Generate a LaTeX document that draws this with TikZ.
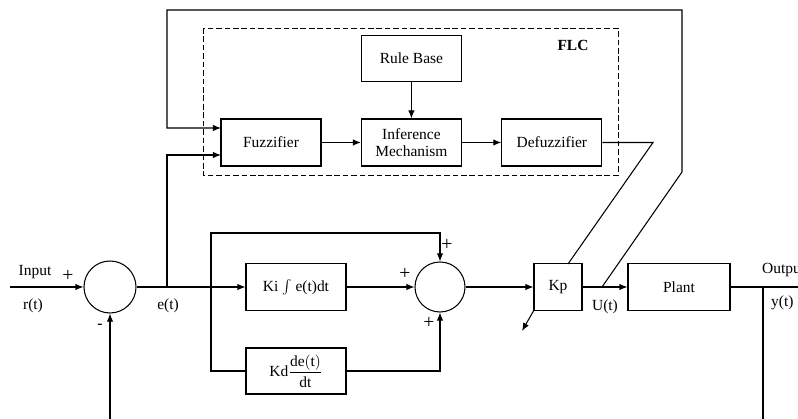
\documentclass[tikz,border=0pt]{standalone}
\usepackage{fontspec}
\setmainfont{Liberation Serif}
\usetikzlibrary{positioning,arrows.meta}
\tikzset{
  block/.style={draw, minimum width=2.5cm, minimum height=1.175cm, align=center, inner sep=1pt},
  sum/.style={draw, circle, minimum size=1.3cm, inner sep=0pt},
  sign/.style={font=\fontsize{14}{14}\selectfont, inner sep=0pt}
}
\begin{document}
\begin{tikzpicture}[x=0.025cm, y=-0.025cm, line width=0.75pt, >={Latex[length=2mm,width=1.6mm]}, font=\fontsize{11}{12}\selectfont]
            \clip (0,0) rectangle (798,419);
            % fuzzy controller
            \node(fuzz) [block] at (271,142.5) {Fuzzifier};
            \node(inf) [block, right of=fuzz, node distance=3.51cm] {Inference\\Mechanism};
            \node(defuzz) [block, right of=inf, node distance=3.51cm] {Defuzzifier};
            \node(rule) [block, above of=inf, node distance=2.1cm, minimum height=1.15cm] {Rule Base};
            \draw[line width=0.6pt, dash pattern=on 4pt off 2pt] (203,28) rectangle (618,175);
            \node(flc) at (573,45) {\textbf{FLC}};
            % main loop
            \node(s1) [sum] at (110,287) {};
            \node(ki) [block] at (296,287) {Ki {\fontsize{13}{13}\selectfont$\int$} e(t)dt};
            \node(kd) [block, minimum height=1.15cm] at (296,371) {Kd$\displaystyle\frac{\mathrm{de(t)}}{\mathrm{dt}}$};
            \node(s2) [sum, minimum size=1.25cm] at (440,287) {};
            \node(kp) [block, minimum width=1.2cm] at (558,287) {Kp};
            \node(plant) [block, minimum width=2.55cm] at (679,287) {Plant};
            \coordinate(in) at (10,287);
            \coordinate(fb) at (110,419);
            \coordinate(e) at (167,287);
            \coordinate(p) at (211,287);
            \coordinate(u) at (602,287);
            \coordinate(y) at (763,287);
            \coordinate(out) at (798,287);
            \coordinate(ybot) at (763,419);
            \coordinate(f1) at (221,128);
            \coordinate(f2) at (221,155);
            \coordinate(kpt) at (568,264);
            \coordinate(g) at (522,331);
            \draw[->](in) -- (s1);
            \draw[->](fb) -- (s1);
            \draw(s1) -- (p);
            \draw[->](e) |- (f2);
            \draw[->](u) -- (682,172) -- (682,10) -| (167,128) -- (f1);
            \draw[->](fuzz) -- (inf);
            \draw[->](rule) -- (inf);
            \draw[->](inf) -- (defuzz);
            \draw(defuzz.east) -- (653,142.5) -- (kpt);
            \draw[->](p) -- (ki);
            \draw[->](p) |- (440,233) -- (s2);
            \draw(p) |- (kd);
            \draw[->](ki) -- (s2);
            \draw[->](kd) -| (s2);
            \draw[->](s2) -- (kp);
            \draw[->](kp) -- (plant);
            \draw[->](kp.south west) -- (g);
            \draw(plant) -- (out);
            \draw(y) -- (ybot);
            % labels
            \node at (35,272) {Input};
            \node[sign] at (68,276) {+};
            \node at (33,306) {r(t)};
            \node at (100,326) {\textbf{-}};
            \node at (168,306) {e(t)};
            \node[sign] at (405,274) {+};
            \node[sign] at (447,245) {+};
            \node[sign] at (429,323) {+};
            \node at (605,307) {U(t)};
            \node[anchor=west] at (757,270) {Output};
            \node[anchor=west] at (766,303) {y(t)};
\end{tikzpicture}
\end{document}
